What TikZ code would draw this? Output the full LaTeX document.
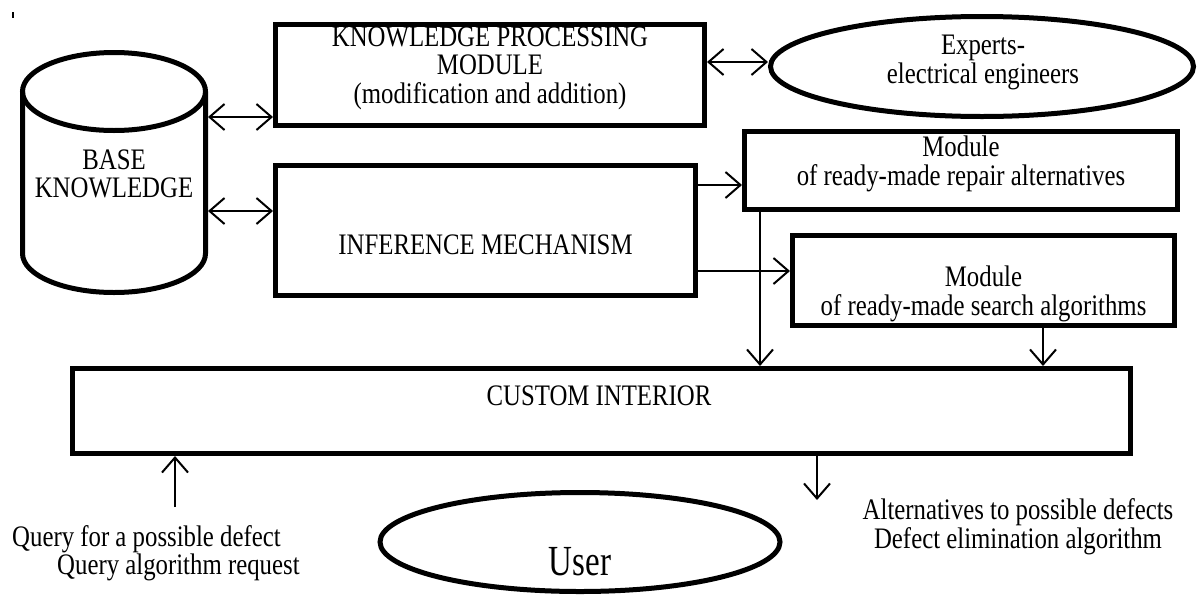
\documentclass[tikz,border=0pt]{standalone}
\usepackage{graphicx}
\usepackage{fontspec}
\setmainfont{Liberation Serif}
\usetikzlibrary{arrows.meta,shapes.geometric}
\newcommand{\vtx}[1]{\scalebox{1}[1.2]{\begin{tabular}{@{}c@{}}#1\end{tabular}}}
\begin{document}
\begin{tikzpicture}[x=1pt,y=-1pt,
  box/.style={draw,line width=5pt,inner sep=0pt,rectangle},
  oval/.style={draw,line width=5pt,inner sep=0pt,ellipse},
  txt/.style={font=\fontsize{24.8}{23}\selectfont,align=center,inner sep=0pt},
  arr/.style={line width=2pt,-{Straight Barb[length=15pt,width=26pt,line width=2pt]}},
  darr/.style={line width=2pt,{Straight Barb[length=15pt,width=26pt,line width=2pt]}-{Straight Barb[length=15pt,width=26pt,line width=2pt]}}]
\useasboundingbox[fill=white] (0,0) rectangle (1198,595);
% stray mark
\draw[line width=1.5pt] (13,12) -- (13,18);
% cylinder
\draw[line width=5pt] (22.5,91.5) -- (22.5,253.5)
  .. controls (22.5,275.04) and (63.47,292.5) .. (114,292.5)
  .. controls (164.53,292.5) and (205.5,275.04) .. (205.5,253.5) -- (205.5,91.5);
\draw[line width=5pt] (114,91.5) ellipse [x radius=91.5, y radius=39];
\node[txt] (base) at (114,178) {\vtx{BASE\\KNOWLEDGE}};
\coordinate (b1) at (208,117);
\coordinate (b2) at (208,211);
% boxes
\node[box,minimum width=429pt,minimum height=101pt] (kpm) at (490,75) {};
\node[txt] (kpmt) at (490,69.5) {\vtx{KNOWLEDGE PROCESSING\\MODULE\\(modification and addition)}};
\node[box,minimum width=420pt,minimum height=130pt] (inf) at (485.5,230.5) {};
\node[txt] (inft) at (485.5,249) {\vtx{INFERENCE MECHANISM}};
\node[box,minimum width=433pt,minimum height=78pt] (rep) at (961,170.5) {};
\node[txt] (rept) at (961,165) {\vtx{Module\\of ready-made repair alternatives}};
\node[box,minimum width=382pt,minimum height=90pt] (sea) at (983.5,280.5) {};
\node[txt] (seat) at (983.5,295) {\vtx{Module\\of ready-made search algorithms}};
\node[box,minimum width=1058pt,minimum height=85pt] (cus) at (601.5,411) {};
\node[txt] (cust) at (599,400) {\vtx{CUSTOM INTERIOR}};
% ellipses
\node[oval,minimum width=423pt,minimum height=100pt] (exp) at (982,66.5) {};
\node[txt] (expt) at (983,63.5) {\vtx{Experts-\\electrical engineers}};
\node[oval,minimum width=400pt,minimum height=99pt] (usr) at (580,542) {};
\node[font=\fontsize{33}{36}\selectfont,inner sep=0pt] (usrt) at (580,562) {\scalebox{1}[1.3]{User}};
% side texts
\node[txt,anchor=west] (q1) at (12,539.5) {\scalebox{1}[1.2]{Query for a possible defect}};
\node[txt,anchor=west] (q2) at (57,567.5) {\scalebox{1}[1.2]{Query algorithm request}};
\node[txt] (a1) at (1018,528) {\vtx{Alternatives to possible defects\\Defect elimination algorithm}};
\coordinate (qs) at (175,507);
\coordinate (ae) at (817,500);
% connectors
\draw[darr] (b1) -- (kpm.west |- b1);
\draw[darr] (b2) -- (inf.west |- b2);
\draw[darr] (kpm.east |- 0,62) -- (exp.west |- 0,62);
\draw[arr] (inf.east |- 0,185) -- (rep.west |- 0,185);
\draw[arr] (inf.east |- 0,271) -- (sea.west |- 0,271);
\draw[arr] (rep.south -| 760,0) -- (cus.north -| 760,0);
\draw[arr] (sea.south -| 1043,0) -- (cus.north -| 1043,0);
\draw[arr] (qs) -- (cus.south -| qs);
\draw[arr] (cus.south -| ae) -- (ae);
\end{tikzpicture}
\end{document}
